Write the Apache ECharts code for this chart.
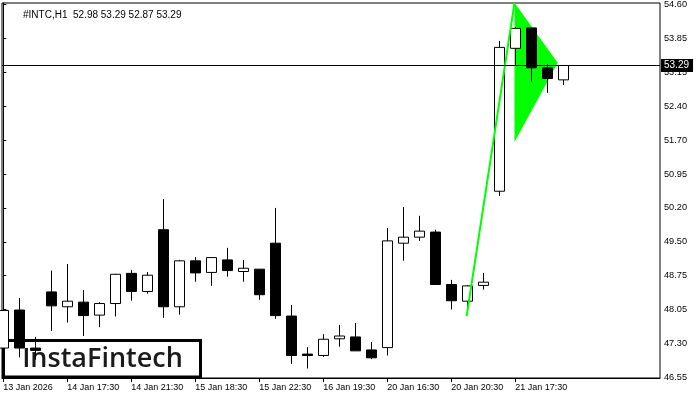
<!DOCTYPE html>
<html><head><meta charset="utf-8">
<script src="https://cdn.jsdelivr.net/npm/echarts@6/dist/echarts.min.js"></script>
<style>html,body{margin:0;padding:0;background:#fff;}#chart{width:700px;height:400px;}</style>
</head><body><div id="chart"></div>
<script>
// ---- data ----
const titleText = '#INTC,H1  52.98 53.29 52.87 53.29';
const candleTimes = [
  '13 Jan 20:30','13 Jan 21:30','13 Jan 22:30',
  '14 Jan 16:30','14 Jan 17:30','14 Jan 18:30','14 Jan 19:30','14 Jan 20:30','14 Jan 21:30','14 Jan 22:30',
  '15 Jan 16:30','15 Jan 17:30','15 Jan 18:30','15 Jan 19:30','15 Jan 20:30','15 Jan 21:30','15 Jan 22:30',
  '16 Jan 16:30','16 Jan 17:30','16 Jan 18:30','16 Jan 19:30','16 Jan 20:30','16 Jan 21:30','16 Jan 22:30',
  '20 Jan 16:30','20 Jan 17:30','20 Jan 18:30','20 Jan 19:30','20 Jan 20:30','20 Jan 21:30','20 Jan 22:30',
  '21 Jan 16:30','21 Jan 17:30','21 Jan 18:30','21 Jan 19:30','21 Jan 20:30'
];
const opens  = [47.20,48.02,47.20,48.41,48.09,48.19,47.91,48.16,48.81,48.42,49.75,48.09,49.08,48.83,49.10,48.85,48.90,49.46,47.89,47.07,47.04,47.40,47.44,47.16,47.21,49.46,49.59,49.70,48.57,48.21,48.55,50.58,53.66,54.10,53.24,52.98];
const highs  = [48.03,48.28,47.44,48.87,49.01,48.45,48.19,48.80,48.88,48.84,50.41,49.10,49.16,49.16,49.36,49.10,48.90,50.22,48.13,47.22,47.50,47.70,47.74,47.33,49.79,50.24,50.05,49.75,48.67,48.56,48.82,53.82,54.12,54.10,53.32,53.29];
const lows   = [47.05,47.00,46.95,47.57,47.75,47.46,47.65,47.88,48.22,48.37,47.85,47.92,48.63,48.54,48.74,48.63,48.24,47.83,46.86,46.76,47.01,47.23,47.14,46.96,47.04,49.08,49.51,48.57,48.03,48.03,48.46,50.48,53.30,52.94,52.70,52.87];
const closes = [48.01,47.20,47.15,48.11,48.21,47.90,48.16,48.79,48.42,48.77,48.09,49.08,48.82,49.15,48.87,48.92,48.35,47.90,47.04,47.04,47.39,47.46,47.14,46.99,49.51,49.59,49.72,48.57,48.22,48.54,48.62,53.68,54.09,53.24,53.01,53.29];
const lastClose = 53.29;

const xTickIndex  = [0,4,8,12,16,20,24,28,32];
const xTickLabels = ['13 Jan 2026','14 Jan 17:30','14 Jan 21:30','15 Jan 18:30','15 Jan 22:30','16 Jan 19:30','20 Jan 16:30','20 Jan 20:30','21 Jan 17:30'];
const yTickValues = [46.57,47.30,48.03,48.76,49.49,50.22,50.95,51.68,52.41,53.14,53.87,54.60];
const yTickLabels = ['46.55','47.30','48.05','48.75','49.50','50.20','50.95','51.70','52.40','53.15','53.85','54.60'];

// bullish pennant (flag pole + triangle), in candle-index / price units
const poleX = [28.96, 31.95];
const poleY = [47.89, 54.64];
const triX  = [31.95, 31.95, 34.65];
const triY  = [54.64, 51.64, 53.35];

// ---- chart ----
const FONT = 'Liberation Sans';
const GREEN = '#00ff00';
const candleData = opens.map((o, i) => [i, o, closes[i], lows[i], highs[i]]);

const chart = echarts.init(document.getElementById('chart'), null, {renderer: 'canvas'});
chart.setOption({
  animation: false,
  backgroundColor: '#fff',
  title: {
    text: titleText, left: 18, top: 5,
    textStyle: {fontSize: 10, fontWeight: 'normal', color: '#000', fontFamily: FONT}
  },
  grid: {left: 2, right: 40, top: 3, bottom: 22, show: true, borderColor: '#000', borderWidth: 1, backgroundColor: '#fff'},
  xAxis: {
    type: 'value', min: -0.08125, max: 41.04375,
    axisLine: {show: true, onZero: false, lineStyle: {color: '#000', width: 1}},
    axisTick: {show: true, customValues: xTickIndex, length: 4, lineStyle: {color: '#000'}},
    axisLabel: {
      show: true, customValues: xTickIndex, align: 'left', margin: 5,
      fontSize: 9, fontFamily: FONT, color: '#000',
      formatter: v => { const k = xTickIndex.indexOf(Math.round(v)); return k >= 0 ? xTickLabels[k] : ''; }
    },
    splitLine: {show: false}
  },
  yAxis: {
    type: 'value', position: 'right', min: 46.5549, max: 54.6366, scale: true,
    axisLine: {show: true, lineStyle: {color: '#000', width: 1}},
    axisTick: {show: true, customValues: yTickValues, length: 3, lineStyle: {color: '#000'}},
    axisLabel: {
      show: true, customValues: yTickValues, margin: 4, align: 'left',
      fontSize: 9.2, fontFamily: FONT, color: '#000',
      formatter: v => {
        let best = 0, d = Infinity;
        yTickValues.forEach((t, k) => { const dd = Math.abs(t - v); if (dd < d) { d = dd; best = k; } });
        return yTickLabels[best];
      }
    },
    splitLine: {show: false}
  },
  series: [
    {
      type: 'custom', z: 1, clip: true,
      data: triX.map((x, i) => [x, triY[i]]),
      encode: {x: 0, y: 1},
      renderItem: (params, api) => {
        if (params.dataIndex !== 0) return null;
        const pts = triX.map((x, i) => api.coord([x, triY[i]]));
        return {type: 'polygon', shape: {points: pts}, style: {fill: GREEN, stroke: null}};
      }
    },
    {
      type: 'candlestick', z: 2, clip: true,
      data: candleData,
      dimensions: ['idx', 'open', 'close', 'lowest', 'highest'],
      encode: {x: 'idx', y: ['open', 'close', 'lowest', 'highest']},
      barWidth: 10,
      itemStyle: {color: '#fff', color0: '#000', borderColor: '#000', borderColor0: '#000', borderWidth: 1},
      markLine: {
        silent: true, symbol: ['none', 'none'], z: 10,
        lineStyle: {color: '#000', width: 1, type: 'solid'},
        label: {
          show: true, position: 'end', distance: 1,
          formatter: () => lastClose.toFixed(2),
          color: '#fff', backgroundColor: '#000', padding: [2, 4, 1, 3],
          fontSize: 10, fontFamily: FONT
        },
        data: [{yAxis: lastClose}]
      }
    },
    {
      type: 'line', z: 3, showSymbol: false, symbol: 'none',
      data: poleX.map((x, i) => [x, poleY[i]]),
      lineStyle: {color: GREEN, width: 2}
    }
  ],
  graphic: [
    {
      type: 'group', z: 100,
      children: [
        {type: 'rect', shape: {x: 3.5, y: 340.5, width: 197, height: 36.5},
         style: {fill: '#fff', stroke: '#000', lineWidth: 3}},
        {type: 'text', x: 102.5, y: 359.5,
         style: {text: 'InstaFintech', fill: '#1a1a1a', font: '600 27px "Open Sans"', textAlign: 'center', textVerticalAlign: 'middle'}}
      ]
    }
  ]
});
</script>
</body></html>
